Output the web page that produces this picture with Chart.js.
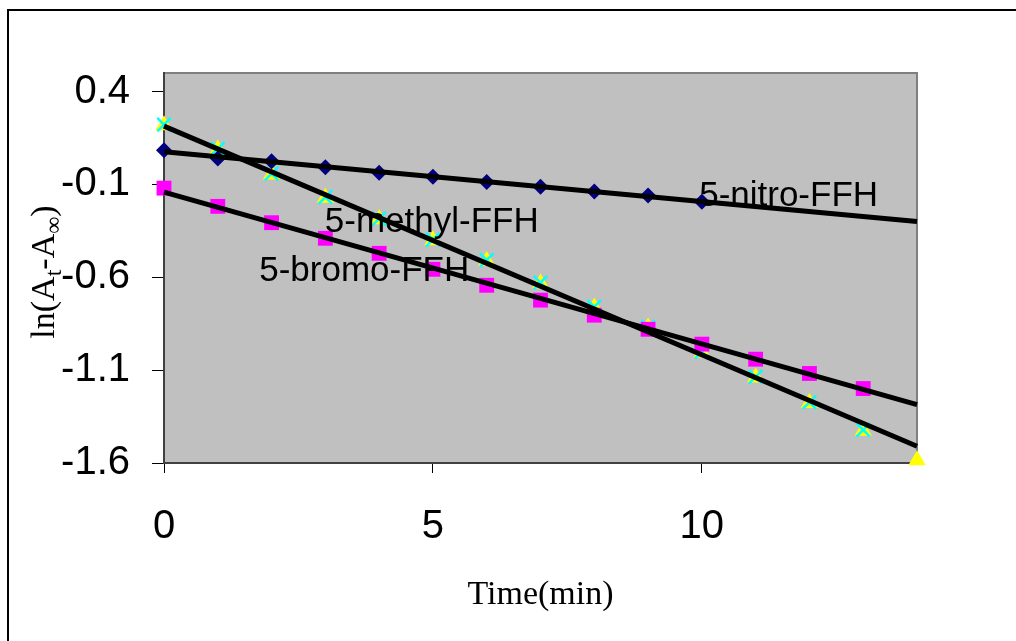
<!DOCTYPE html>
<html>
<head>
<meta charset="utf-8">
<script src="https://cdn.jsdelivr.net/npm/chart.js@4/dist/chart.umd.min.js"></script>
<style>
  html, body { margin: 0; padding: 0; background: #fff; }
  #wrap { width: 1016px; height: 641px; position: relative; }
</style>
</head>
<body>
<div id="wrap"><canvas id="c" width="1016" height="641"></canvas></div>
<script>
// ---- data ----
const timeNitro = [0, 1, 2, 3, 4, 5, 6, 7, 8, 9, 10];
const nitroVals = [0.084, 0.040, 0.025, -0.007, -0.037, -0.059, -0.087, -0.112, -0.138, -0.159, -0.193];

const timeBromo = [0, 1, 2, 3, 4, 5, 6, 7, 8, 9, 10, 11, 12, 13];
const bromoVals = [-0.120, -0.218, -0.306, -0.390, -0.471, -0.557, -0.643, -0.723, -0.804, -0.880, -0.960, -1.041, -1.118, -1.199];

const timeMethyl = [0, 1, 2, 3, 4, 5, 6, 7, 8, 9, 10, 11, 12, 13, 14];
const methylVals = [0.219, 0.088, -0.046, -0.172, -0.288, -0.401, -0.512, -0.633, -0.763, -0.871, -1.005, -1.140, -1.277, -1.426, -1.585];

const timeCross = [0, 1, 2, 3, 4, 5, 6, 7, 8, 9, 10, 11, 12, 13];
const crossVals = [0.222, 0.092, -0.042, -0.168, -0.284, -0.397, -0.508, -0.629, -0.759, -0.867, -1.001, -1.136, -1.273, -1.422];

// trendline end points (x = 0 and x = 14)
const trendX = [0, 14];
const nitroTrend = [0.076, -0.300];
const bromoTrend = [-0.141, -1.286];
const methylTrend = [0.214, -1.510];

const xTicks = [0, 5, 10];
const yTicks = [-1.6, -1.1, -0.6, -0.1, 0.4];

const seriesLabels = ['5-nitro-FFH', '5-methyl-FFH', '5-bromo-FFH'];
const labelPos = [[9.95, -0.218], [2.99, -0.358], [1.77, -0.621]];

const xTitle = 'Time(min)';

function pts(xs, ys) { return xs.map((x, i) => ({ x: x, y: ys[i] })); }

const bgPlugin = {
  id: 'bg',
  beforeDraw(chart) {
    const ctx = chart.ctx, a = chart.chartArea;
    ctx.save();
    ctx.fillStyle = '#fff';
    ctx.fillRect(0, 0, chart.width, chart.height);
    ctx.strokeStyle = '#000';
    ctx.lineWidth = 2;
    ctx.beginPath();
    ctx.moveTo(8, chart.height + 5);
    ctx.lineTo(8, 10);
    ctx.lineTo(chart.width + 5, 10);
    ctx.stroke();
    ctx.fillStyle = '#C0C0C0';
    ctx.fillRect(a.left, a.top, a.right - a.left, a.bottom - a.top);
    ctx.strokeStyle = '#808080';
    ctx.lineWidth = 2;
    ctx.beginPath();
    ctx.moveTo(a.left, a.top);
    ctx.lineTo(a.right, a.top);
    ctx.lineTo(a.right, a.bottom);
    ctx.stroke();
    ctx.restore();
  },
  afterDatasetsDraw(chart) {
    const ctx = chart.ctx, xs = chart.scales.x, ys = chart.scales.y;
    ctx.save();
    ctx.fillStyle = '#000';
    ctx.font = '35px "Liberation Sans", Arial, sans-serif';
    ctx.textAlign = 'left';
    ctx.textBaseline = 'alphabetic';
    seriesLabels.forEach((t, i) => {
      ctx.fillText(t, xs.getPixelForValue(labelPos[i][0]), ys.getPixelForValue(labelPos[i][1]));
    });
    ctx.restore();
  },
  afterDraw(chart) {
    const ctx = chart.ctx, a = chart.chartArea;
    ctx.save();
    ctx.fillStyle = '#000';
    ctx.font = '34px "Liberation Serif", "Times New Roman", serif';
    ctx.textAlign = 'center';
    ctx.textBaseline = 'alphabetic';
    ctx.fillText(xTitle, (a.left + a.right) / 2, 604);
    ctx.translate(54, 272);
    ctx.rotate(-Math.PI / 2);
    const big = '34px "Liberation Serif", "Times New Roman", serif';
    const small = '24px "Liberation Serif", "Times New Roman", serif';
    const parts = [['ln(A', big, 0], ['t', small, 7], ['-A', big, 0], ['\u221E', small, 7], [')', big, 0]];
    let w = 0;
    parts.forEach(p => { ctx.font = p[1]; w += ctx.measureText(p[0]).width; });
    let x = -w / 2;
    ctx.textAlign = 'left';
    parts.forEach(p => {
      ctx.font = p[1];
      ctx.fillText(p[0], x, p[2]);
      x += ctx.measureText(p[0]).width;
    });
    ctx.restore();
  }
};

const line = (data) => ({
  type: 'line', data: data, borderColor: '#000', borderWidth: 5, pointRadius: 0,
  fill: false, order: 0, clip: false, showLine: true
});

new Chart(document.getElementById('c'), {
  type: 'scatter',
  data: {
    datasets: [
      line(pts(trendX, nitroTrend)),
      line(pts(trendX, bromoTrend)),
      line(pts(trendX, methylTrend)),
      { label: seriesLabels[0], data: pts(timeNitro, nitroVals), pointStyle: 'rectRot', pointRadius: 8,
        backgroundColor: '#000080', borderColor: '#000080', borderWidth: 0, order: 1, clip: false },
      { label: seriesLabels[2], data: pts(timeBromo, bromoVals), pointStyle: 'rect', pointRadius: 10.5,
        backgroundColor: '#FF00FF', borderColor: '#FF00FF', borderWidth: 0, order: 1, clip: false },
      { label: seriesLabels[1] + ' X', data: pts(timeCross, crossVals), pointStyle: 'crossRot', pointRadius: 9.5,
        backgroundColor: '#00FFFF', borderColor: '#00FFFF', borderWidth: 2.5, order: 1, clip: false },
      { label: seriesLabels[1], data: pts(timeMethyl, methylVals), pointStyle: 'triangle', pointRadius: 10,
        backgroundColor: '#FFFF00', borderColor: '#FFFF00', borderWidth: 0, order: 2, clip: false }
    ]
  },
  options: {
    responsive: false,
    animation: false,
    events: [],
    layout: { padding: { top: 73, right: 99, left: 0, bottom: 0 } },
    plugins: { legend: { display: false }, tooltip: { enabled: false } },
    scales: {
      x: {
        type: 'linear', min: 0, max: 14,
        afterBuildTicks: (s) => { s.ticks = xTicks.map(v => ({ value: v })); },
        afterFit: (s) => { s.height = 178; },
        border: { display: true, color: '#404040', width: 2 },
        grid: { drawOnChartArea: false, drawTicks: true, tickLength: 10, tickColor: '#000', tickWidth: 1 },
        ticks: { color: '#000', padding: 30, maxRotation: 0,
          font: { family: '"Liberation Sans", Arial, sans-serif', size: 40 } }
      },
      y: {
        type: 'linear', min: -1.6, max: 0.5,
        afterBuildTicks: (s) => { s.ticks = yTicks.map(v => ({ value: v })); },
        afterFit: (s) => { s.width = 164; },
        border: { display: true, color: '#404040', width: 2 },
        grid: { drawOnChartArea: false, drawTicks: true, tickLength: 12, tickColor: '#000', tickWidth: 1 },
        ticks: { color: '#000', padding: 22,
          callback: (v) => v.toFixed(1),
          font: { family: '"Liberation Sans", Arial, sans-serif', size: 40 } }
      }
    }
  },
  plugins: [bgPlugin]
});
</script>
</body>
</html>
